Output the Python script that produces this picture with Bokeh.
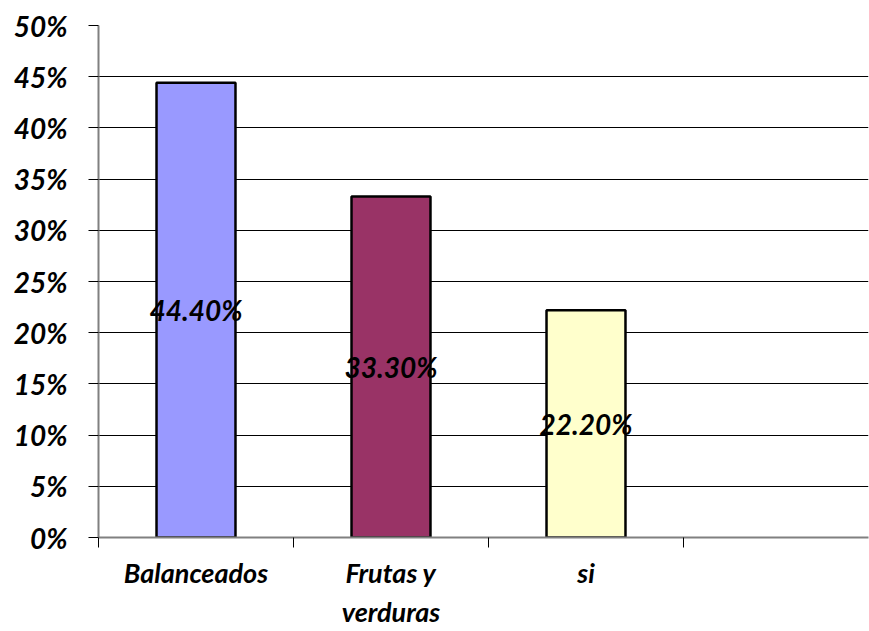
from bokeh.plotting import figure
from bokeh.models import ColumnDataSource, FixedTicker, Range1d
from bokeh.embed import file_html
from bokeh.resources import INLINE
from bokeh.core.properties import value

categories = ["Balanceados", "Frutas y\nverduras", "si"]
values = [44.4, 33.3, 22.2]
labels = ["44.40%", "33.30%", "22.20%"]
colors = ["#9999FF", "#993366", "#FFFFCC"]
y_ticks = [0, 5, 10, 15, 20, 25, 30, 35, 40, 45, 50]

FONT = "Lato"
xs = [i + 0.5 for i in range(len(categories))]

src = ColumnDataSource(dict(x=xs, top=values, mid=[v / 2 for v in values],
                            color=colors, label=labels))

p = figure(width=869, height=631, output_backend="svg", toolbar_location=None,
           x_range=Range1d(0, 770 / 195), y_range=Range1d(0, 50),
           min_border_left=98, min_border_right=1, min_border_top=25, min_border_bottom=93)
p.outline_line_color = None

p.vbar(x="x", top="top", width=0.405, bottom=0, fill_color="color",
       line_color="black", line_width=2.5, source=src)

p.text(x="x", y="mid", text="label", source=src, text_align="center",
       text_baseline="middle", text_font=value(FONT), text_font_style="bold italic",
       text_font_size="28px", text_color="black")

# y axis
p.yaxis.ticker = FixedTicker(ticks=y_ticks)
p.yaxis.major_label_overrides = {t: f"{t}%" for t in y_ticks}
p.yaxis.major_label_text_font = FONT
p.yaxis.major_label_text_font_style = "bold italic"
p.yaxis.major_label_text_font_size = "28px"
p.yaxis.major_label_text_color = "black"
p.yaxis.major_label_standoff = 21
p.yaxis.major_tick_out = 10
p.yaxis.major_tick_in = 0
p.yaxis.minor_tick_out = 0
p.yaxis.minor_tick_in = 0
p.yaxis.axis_line_color = "#808080"
p.yaxis.axis_line_width = 2
p.yaxis.major_tick_line_color = "black"

# x axis
p.xaxis.ticker = FixedTicker(ticks=xs, minor_ticks=[0, 1, 2, 3])
p.xaxis.major_label_overrides = {x: c for x, c in zip(xs, categories)}
p.xaxis.major_label_text_font = FONT
p.xaxis.major_label_text_font_style = "bold italic"
p.xaxis.major_label_text_font_size = "27px"
p.xaxis.major_label_text_color = "black"
p.xaxis.major_label_standoff = 8
p.xaxis.major_tick_out = 0
p.xaxis.major_tick_in = 0
p.xaxis.minor_tick_out = 10
p.xaxis.minor_tick_in = 0
p.xaxis.minor_tick_line_color = "black"
p.xaxis.axis_line_color = "#808080"
p.xaxis.axis_line_width = 2

p.xgrid.grid_line_color = None
p.ygrid.grid_line_color = "black"
p.ygrid.grid_line_width = 1

open("out.html", "w").write(file_html(p, INLINE))
